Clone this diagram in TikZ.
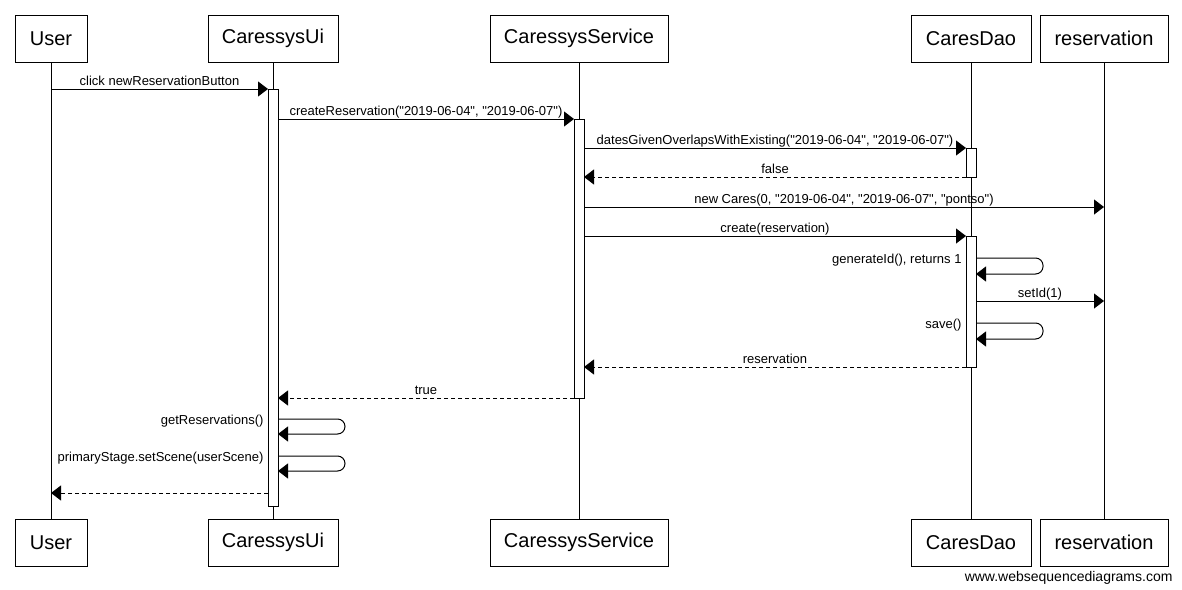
\documentclass[tikz,border=0pt]{standalone}
\usepackage{fontspec}
\setmainfont{Liberation Sans}
% plain family: keeps straight double quotes as typed
\newfontfamily\diagfont{Liberation Sans}
\usetikzlibrary{arrows.meta}
\begin{document}
\begin{tikzpicture}[x=1pt,y=-1pt,line width=1pt,
  actor/.style={draw,fill=white,inner sep=0pt,minimum height=47pt,font=\diagfont\fontsize{20}{24}\selectfont},
  actbar/.style={draw,fill=white,inner sep=0pt,minimum width=10pt},
  msg/.style={-{Triangle[length=10pt,width=15pt]}},
  ret/.style={msg,dash pattern=on 4pt off 3pt},
  lbl/.style={anchor=base,inner sep=0pt,yshift=3.5pt,font=\diagfont\fontsize{13}{15}\selectfont},
  selflbl/.style={anchor=base east,inner sep=0pt,font=\diagfont\fontsize{13}{15}\selectfont},
  loop/.style={msg,rounded corners=7.5pt}
]
\useasboundingbox[fill=white] (0,0) rectangle (1182,589);

% participants, top and bottom
\node[actor,minimum width=72pt]  (userT) at (51,38.5)   {User};
\node[actor,minimum width=130pt] (uiT)   at (273,38.5)  {CaressysUi};
\node[actor,minimum width=178pt] (svcT)  at (579,38.5)  {CaressysService};
\node[actor,minimum width=120pt] (daoT)  at (971,38.5)  {CaresDao};
\node[actor,minimum width=128pt] (resT)  at (1104,38.5) {reservation};

\node[actor,minimum width=72pt]  (userB) at (51,542.75)   {User};
\node[actor,minimum width=130pt] (uiB)   at (273,542.75)  {CaressysUi};
\node[actor,minimum width=178pt] (svcB)  at (579,542.75)  {CaressysService};
\node[actor,minimum width=120pt] (daoB)  at (971,542.75)  {CaresDao};
\node[actor,minimum width=128pt] (resB)  at (1104,542.75) {reservation};

% lifelines
\draw (userT) -- (userB);
\draw (uiT) -- (uiB);
\draw (svcT) -- (svcB);
\draw (daoT) -- (daoB);
\draw (resT) -- (resB);

% activation bars
\node[actbar,minimum height=417pt] (uiAct)   at (273,297.5) {};
\node[actbar,minimum height=279pt] (svcAct)  at (579,258.5) {};
\node[actbar,minimum height=29pt]  (daoActA) at (971,162.5) {};
\node[actbar,minimum height=131pt] (daoActB) at (971,301.5) {};

% message end points
\coordinate (m1a) at (51,89);    \coordinate (m1b) at (268,89);
\coordinate (m2a) at (278,119);  \coordinate (m2b) at (574,119);
\coordinate (m3a) at (584,148);  \coordinate (m3b) at (966,148);
\coordinate (m4a) at (966,177);  \coordinate (m4b) at (584,177);
\coordinate (m5a) at (584,207);  \coordinate (m5b) at (1104,207);
\coordinate (m6a) at (584,236);  \coordinate (m6b) at (966,236);
\coordinate (s1a) at (976,258);  \coordinate (s1b) at (1043,258);
\coordinate (s1c) at (1043,274); \coordinate (s1d) at (976,274);
\coordinate (m8a) at (976,301);  \coordinate (m8b) at (1104,301);
\coordinate (s2a) at (976,323);  \coordinate (s2b) at (1043,323);
\coordinate (s2c) at (1043,339); \coordinate (s2d) at (976,339);
\coordinate (m10a) at (966,367); \coordinate (m10b) at (584,367);
\coordinate (m11a) at (574,398); \coordinate (m11b) at (278,398);
\coordinate (s3a) at (278,419);  \coordinate (s3b) at (345,419);
\coordinate (s3c) at (345,434);  \coordinate (s3d) at (278,434);
\coordinate (s4a) at (278,456);  \coordinate (s4b) at (345,456);
\coordinate (s4c) at (345,471);  \coordinate (s4d) at (278,471);
\coordinate (m14a) at (268,493); \coordinate (m14b) at (51,493);

% messages
\draw[msg] (m1a) -- node[lbl] (t1) {click newReservationButton} (m1b);
\draw[msg] (m2a) -- node[lbl] (t2) {createReservation("2019-06-04", "2019-06-07")} (m2b);
\draw[msg] (m3a) -- node[lbl] (t3) {datesGivenOverlapsWithExisting("2019-06-04", "2019-06-07")} (m3b);
\draw[ret] (m4a) -- node[lbl] (t4) {false} (m4b);
\draw[msg] (m5a) -- node[lbl] (t5) {new Cares(0, "2019-06-04", "2019-06-07", "pontso")} (m5b);
\draw[msg] (m6a) -- node[lbl] (t6) {create(reservation)} (m6b);
\draw[loop] (s1a) -- (s1b) -- (s1c) -- (s1d);
\node[selflbl] (t7) at (962,263) {generateId(), returns 1};
\draw[msg] (m8a) -- node[lbl] (t8) {setId(1)} (m8b);
\draw[loop] (s2a) -- (s2b) -- (s2c) -- (s2d);
\node[selflbl] (t9) at (962,328) {save()};
\draw[ret] (m10a) -- node[lbl] (t10) {reservation} (m10b);
\draw[ret] (m11a) -- node[lbl] (t11) {true} (m11b);
\draw[loop] (s3a) -- (s3b) -- (s3c) -- (s3d);
\node[selflbl] (t12) at (264,424) {getReservations()};
\draw[loop] (s4a) -- (s4b) -- (s4c) -- (s4d);
\node[selflbl] (t13) at (264,461) {primaryStage.setScene(userScene)};
\draw[ret] (m14a) -- (m14b);

% footer
\node[anchor=base east,inner sep=0pt,font=\diagfont\fontsize{14}{16}\selectfont] (wsd) at (1173,581) {www.websequencediagrams.com};
\end{tikzpicture}
\end{document}
